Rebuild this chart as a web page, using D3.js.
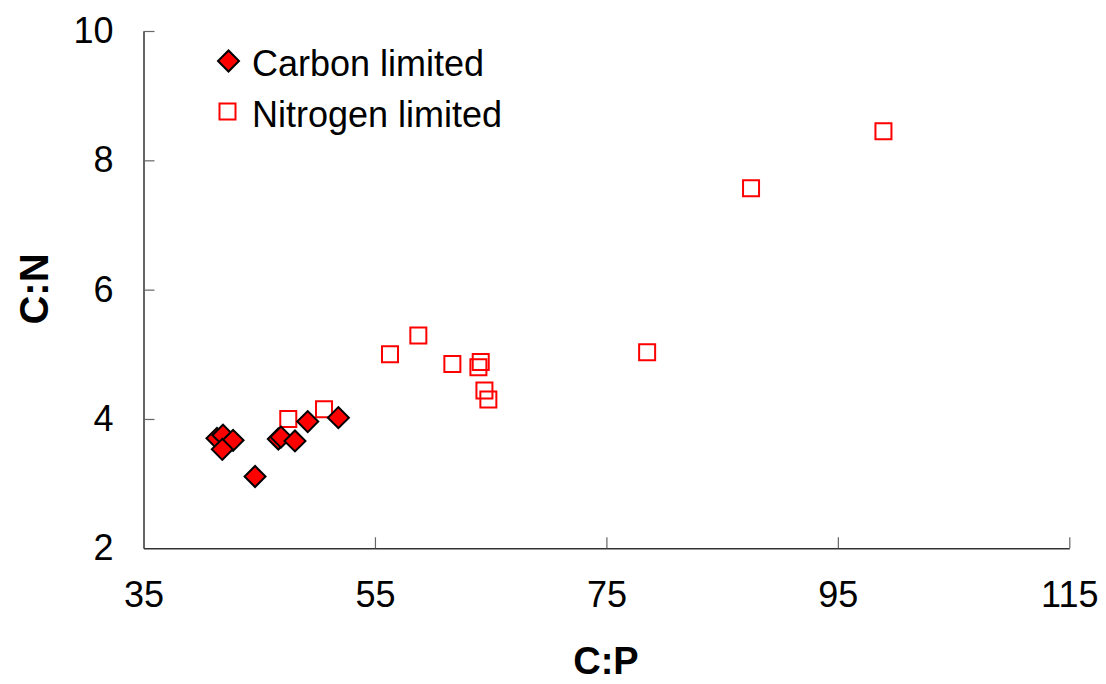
<!DOCTYPE html>
<html>
<head>
<meta charset="utf-8">
<script src="https://cdn.jsdelivr.net/npm/d3@7"></script>
<style>
  html, body { margin: 0; padding: 0; background: #fff; }
  svg { display: block; font-family: "Liberation Sans", Arial, sans-serif; }
</style>
</head>
<body>
<svg id="chart" width="1106" height="684"></svg>
<script>
// C:P and C:N ratios for the two limitation treatments
const carbonCP   = [41.35, 41.87, 42.74, 41.81, 44.64, 46.65, 46.88, 48.09, 49.19, 51.84];
const carbonCN   = [3.70, 3.75, 3.67, 3.53, 3.11, 3.69, 3.72, 3.66, 3.96, 4.02];
const nitrogenCP = [47.51, 50.6, 56.3, 58.75, 61.69, 63.94, 64.14, 64.46, 64.80, 78.52, 87.5, 98.94];
const nitrogenCN = [4.00, 4.15, 5.00, 5.29, 4.85, 4.80, 4.88, 4.44, 4.30, 5.03, 7.57, 8.45];
const seriesNames = ["Carbon limited", "Nitrogen limited"];
const xTicks = [35, 55, 75, 95, 115];
const yTicks = [2, 4, 6, 8, 10];

const svg = d3.select("#chart");

const x = d3.scaleLinear().domain([35, 115]).range([143.5, 1069.3]);
const y = d3.scaleLinear().domain([2, 10]).range([548.3, 31]);

// Axes: ticks point inward, labels outside
const xAxis = d3.axisBottom(x).tickValues(xTicks).tickSize(-11).tickSizeOuter(0).tickPadding(33);
const yAxis = d3.axisLeft(y).tickValues(yTicks).tickSize(-11).tickSizeOuter(0).tickPadding(30);

const gx = svg.append("g").attr("transform", `translate(0,${y.range()[0]})`).call(xAxis);
const gy = svg.append("g").attr("transform", `translate(${x.range()[0]},0)`).call(yAxis);

[gx, gy].forEach(g => {
  g.select(".domain").attr("stroke", "#333").attr("stroke-width", 1.5);
  g.selectAll(".tick line").attr("stroke", "#666").attr("stroke-width", 1.2);
  g.selectAll(".tick text")
    .attr("fill", "#000")
    .attr("font-size", 36)
    .attr("font-family", "'Liberation Sans', Arial, sans-serif");
});
// no tick at the shared origin
gx.selectAll(".tick").filter(d => d === 35).select("line").remove();
gy.selectAll(".tick").filter(d => d === 2).select("line").remove();

// Axis titles
svg.append("text")
  .attr("x", 606).attr("y", 674)
  .attr("text-anchor", "middle")
  .attr("font-size", 38).attr("font-weight", "bold")
  .text("C:P");

svg.append("text")
  .attr("transform", "translate(48,289) rotate(-90)")
  .attr("text-anchor", "middle")
  .attr("font-size", 40).attr("font-weight", "bold")
  .text("C:N");

// Marker shapes
const diamond = d3.symbol(d3.symbolSquare, 220)();
const square = d3.symbol(d3.symbolSquare, 256)();

const nitrogenData = nitrogenCP.map((v, i) => ({ cp: v, cn: nitrogenCN[i] }));
const carbonData = carbonCP.map((v, i) => ({ cp: v, cn: carbonCN[i] }));

svg.append("g").selectAll("path")
  .data(nitrogenData)
  .join("path")
  .attr("d", square)
  .attr("transform", d => `translate(${x(d.cp)},${y(d.cn)})`)
  .attr("fill", "none")
  .attr("stroke", "#ff0000")
  .attr("stroke-width", 2);

svg.append("g").selectAll("path")
  .data(carbonData)
  .join("path")
  .attr("d", diamond)
  .attr("transform", d => `translate(${x(d.cp)},${y(d.cn)}) rotate(45)`)
  .attr("fill", "#ff0000")
  .attr("stroke", "#000")
  .attr("stroke-width", 2);

// Legend
const legend = svg.append("g");
const legendRows = [
  { name: seriesNames[0], kind: "diamond", cy: 61 },
  { name: seriesNames[1], kind: "square", cy: 111.5 }
];
legendRows.forEach(r => {
  const m = legend.append("path");
  if (r.kind === "diamond") {
    m.attr("d", diamond)
      .attr("transform", `translate(228.5,${r.cy}) rotate(45)`)
      .attr("fill", "#ff0000").attr("stroke", "#000").attr("stroke-width", 2);
  } else {
    m.attr("d", square)
      .attr("transform", `translate(227.5,${r.cy})`)
      .attr("fill", "none").attr("stroke", "#ff0000").attr("stroke-width", 2);
  }
  legend.append("text")
    .attr("x", 252).attr("y", r.cy + 15)
    .attr("font-size", 36)
    .text(r.name);
});
</script>
</body>
</html>
